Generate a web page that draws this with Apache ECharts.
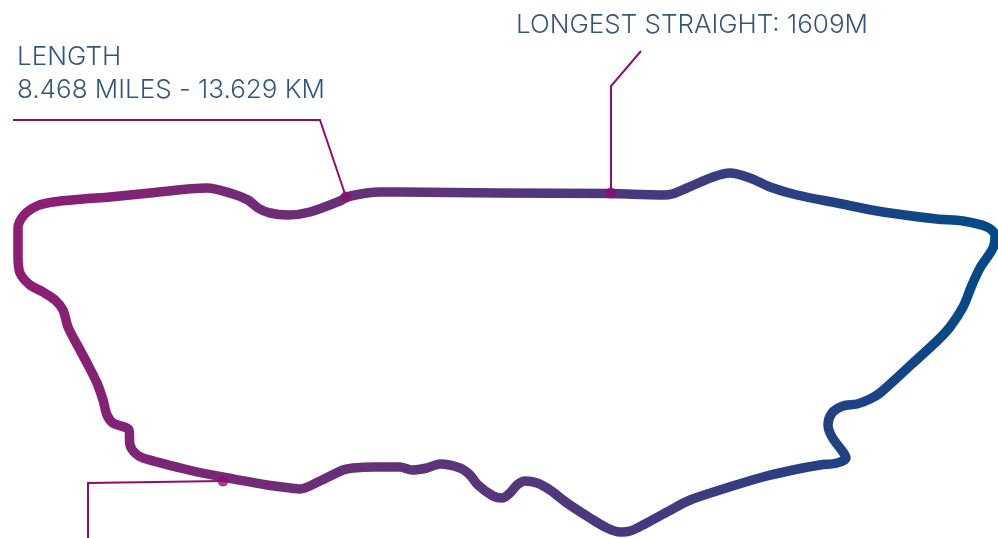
<!DOCTYPE html>
<html><head><meta charset="utf-8">
<style>html,body{margin:0;padding:0;background:#fff}#c{width:998px;height:538px}</style>
<script src="https://cdn.jsdelivr.net/npm/echarts@6/dist/echarts.min.js"></script>
</head><body><div id="c"></div>
<script>
var trackX=[18,18,18,24,37,53,83,110,150,207,233,248,258,270,288,310,340,347,367,380,400,500,611,640,664,672,687,713,730,750,770,797,837,883,937,963,987,995,993,980,972,963,950,937,913,880,870,857,843,832,828,832,843,846,837,820,793,763,723,690,667,643,630,620,607,590,567,550,537,525,517,510,502,493,478,470,460,440,427,412,400,375,353,343,320,300,290,267,223,193,143,135,130,129,113,107,103,97,87,80,68,63,55,43,30,20,18];
var trackY=[257,240,228,215,206,202,199,197,193,188,194,200,208,213,215,212,201,197,193,192,192,193,193.5,194.5,195,194,188,177,173,178,187,195,203,212,219,221,227,235,248,268,285,307,327,341,363,393,399,404,406,413,425,437,452,458,463,465,470,477,489,500,512,525,531,532,528,518,503,490,483,481,485,493,498,496,485,475,468,464,468,470,467,467,468,470,481,489,488,485,477,471,458,453,445,430,423,415,400,383,363,350,327,310,300,292,285,273,257];
var leaderA=[[13,120],[320,120],[346,197]];
var leaderB=[[641,51],[611,86],[611,193]];
var leaderC=[[88,538],[88,483],[223,481]];
var dots=[[346,197],[611,193],[223,481]];
var labels=[
 {text:'LENGTH',x:17,y:57},
 {text:'8.468 MILES - 13.629 KM',x:17,y:90},
 {text:'LONGEST STRAIGHT: 1609M',x:516,y:25}
];
var trackStops=[[0,'#8f1d74'],[0.4,'#5f3478'],[0.65,'#46397f'],[1,'#004a87']];
var leaderColor='#8c0f6f', textColor='#002a5c';

var trackData=trackX.map(function(x,i){return [x,trackY[i]];});
function leader(d){return {type:'line',data:d,symbol:'none',silent:true,z:3,lineStyle:{color:leaderColor,width:2,join:'miter'}};}
var chart=echarts.init(document.getElementById('c'),null,{renderer:'canvas'});
chart.setOption({
 animation:false,backgroundColor:'#fff',
 grid:{left:0,right:0,top:0,bottom:0},
 xAxis:{type:'value',min:0,max:998,show:false},
 yAxis:{type:'value',min:0,max:538,inverse:true,show:false},
 series:[
  {type:'line',data:trackData,symbol:'none',smooth:0.3,silent:true,z:2,
   lineStyle:{width:9.5,cap:'round',join:'round',
    color:{type:'linear',x:0,y:0,x2:1,y2:0,colorStops:trackStops.map(function(s){return {offset:s[0],color:s[1]};})}}},
  leader(leaderA),leader(leaderB),leader(leaderC),
  {type:'scatter',data:dots,symbol:'circle',symbolSize:11,silent:true,z:4,itemStyle:{color:leaderColor}},
  {type:'scatter',data:labels.map(function(l){return {value:[l.x,l.y],label:{formatter:l.text}};}),
   symbolSize:0,silent:true,z:5,
   label:{show:true,position:'right',distance:0,color:textColor,fontFamily:'Inter',fontWeight:300,fontSize:26}}
 ]
});
</script></body></html>
